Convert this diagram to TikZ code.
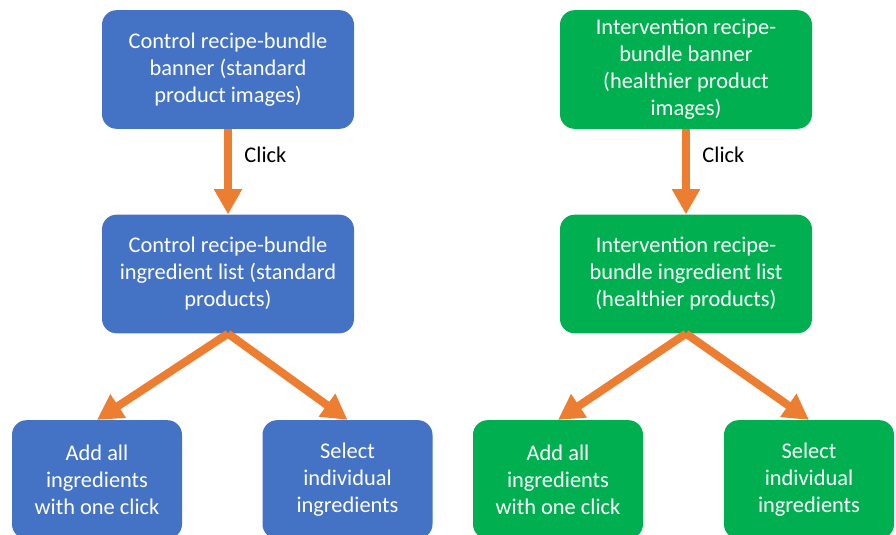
\documentclass[tikz,border=0pt]{standalone}
\usepackage{fontspec}
\setmainfont{Carlito}
\usetikzlibrary{arrows.meta}
\definecolor{ctrlblue}{HTML}{4472C4}
\definecolor{intgreen}{HTML}{00B050}
\definecolor{clickorange}{HTML}{ED7D31}

\begin{document}
\begin{tikzpicture}[x=0.75pt,y=-0.75pt,>={Triangle[length=19pt,width=20pt]}]
		\tikzstyle{flowbox}=[rectangle,rounded corners=11pt,minimum width=189pt,
			minimum height=89pt,text=white,align=center,
			font=\fontsize{16.8}{20.25}\selectfont];
		\tikzstyle{choicebox}=[flowbox,minimum width=127.5pt];
		\tikzstyle{flow}=[->,draw=clickorange,fill=clickorange,line width=6pt];
		\tikzstyle{clicklabel}=[font=\fontsize{16.8}{20.25}\selectfont,right,xshift=6pt];
		\useasboundingbox(0,0)rectangle(896,535);
		\clip(0,0)rectangle(896,535);

		% control arm
		\node[flowbox,fill=ctrlblue](ctop)at(228,69.5){Control recipe-bundle\\banner (standard\\product images)};
		\node[flowbox,fill=ctrlblue](cmid)at(228,274){Control recipe-bundle\\ingredient list (standard\\products)};
		\node[choicebox,fill=ctrlblue](cadd)at(97,479.5){Add all\\ingredients\\with one click};
		\node[choicebox,fill=ctrlblue](csel)at(347.5,479.5){Select\\individual\\ingredients};
		\draw[flow](ctop)--node[clicklabel,pos=0.3,text=black]{Click}(cmid);
		\draw[flow](cmid.south)--(cadd.north);
		\draw[flow](cmid.south)--(csel.north);

		% intervention arm
		\node[flowbox,fill=intgreen](itop)at(686,69.5){Intervention recipe-\\bundle banner\\(healthier product\\images)};
		\node[flowbox,fill=intgreen](imid)at(686,274){Intervention recipe-\\bundle ingredient list\\(healthier products)};
		\node[choicebox,fill=intgreen](iadd)at(558,479.5){Add all\\ingredients\\with one click};
		\node[choicebox,fill=intgreen](isel)at(809,479.5){Select\\individual\\ingredients};
		\draw[flow](itop)--node[clicklabel,pos=0.3,text=black]{Click}(imid);
		\draw[flow](imid.south)--(iadd.north);
		\draw[flow](imid.south)--(isel.north);
	\end{tikzpicture}
\end{document}
